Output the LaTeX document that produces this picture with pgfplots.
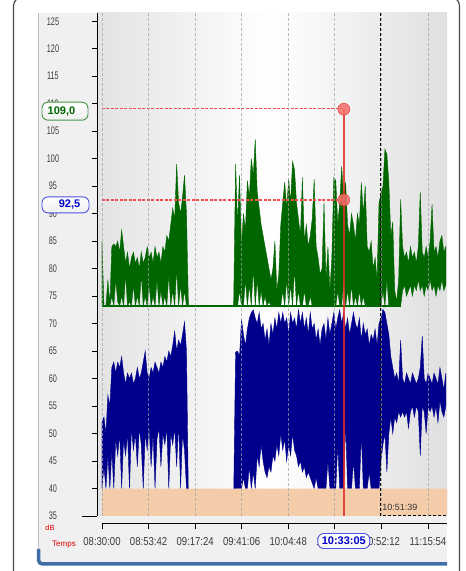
\documentclass[border=0pt]{standalone}
\usepackage{graphicx}
\usepackage{pgfplots}
\pgfplotsset{compat=1.18}
\usepackage{pgfplotstable}
\usepackage{fontspec}
\setmainfont{Liberation Sans}

\definecolor{lgreen}{RGB}{0,102,0}
\definecolor{lblue}{RGB}{0,0,140}
\definecolor{floorband}{RGB}{244,204,170}
\definecolor{cursor}{RGB}{225,45,40}
\definecolor{cursorlight}{RGB}{240,80,75}
\definecolor{dotfill}{RGB}{245,110,105}
\definecolor{strip}{RGB}{62,110,165}
\definecolor{tlab}{RGB}{60,60,60}
\definecolor{boxgreen}{RGB}{70,150,70}
\definecolor{boxblue}{RGB}{80,80,225}

\newcommand{\nx}[1]{\scalebox{0.83}[1]{#1}}

\pgfplotsset{trace/.style={at={(97pt,55pt)}, anchor=south west,
  scale only axis, width=350pt, height=503pt,
  xmin=-2.54, xmax=175.6, ymin=35, ymax=126.5}}

% minutes after 08:30:00, green / blue level envelopes (dB)
\pgfplotstableread{
t ghi glo bhi blo
0 85 73.2 52 40
1 73.2 73.2 53 44
2 73.2 73.2 50 40
3 78 73.2 57 46
4 73.5 73.2 55 40
5 84 75 62 47
6 84.5 73.2 63 40
7 84 78 61 49
8 85 74 63 46
9 83 73.2 62 50
10 87 75 64 40
11 84 73.2 61 49
12 81 79 59 46
13 83 73.2 61 50
14 80 74 60 40
15 82 73.2 61 51
16 83 77 59 47
17 81 73.2 60 50
18 82 75 62 44
19 80 73.2 60 51
20 83 79 61 48
21 81 73.2 63 40
22 82 75 65 50
23 84 73.2 61 47
24 82 77 60 51
25 83 73.2 62 44
26 81 75 61 50
27 84 73.2 63 40
28 82 78 62 49
29 83 73.2 61 51
30 81 76 63 44
31 84 73.2 62 50
32 83 75 64 48
33 86 73.2 63 51
34 85 79 65 40
35 88 73.2 64 50
36 91 76 66 48
37 89 73.2 68.6 51
38 99 80 65 44
39 92 73.2 67 52
40 90 77 66 40
41 93 73.2 68 50
42 97 76 70.3 47
43 90 73.2 65 40
44 73.2 73.2 38 38
67 73.2 73.2 38 38
68 99 73.2 64.8 40
69 88 73.2 65 40
70 97 76 64 40
71 84 73.2 70.8 40
72 90 73.2 68 42
73 87 78 66 40
74 96 73.2 69 40
75 93 77 71 44
76 100 73.2 72 40
77 97 80 72.5 43
78 103.5 73.2 71 40
79 94 78 70 46
80 91 73.2 72 44
81 88 76 69 48
82 86 73.2 70 45
83 84 75 67 43
84 82 73.2 69 42
85 80 74 66 44
86 78 73.2 70 43
87 80 73.2 68 46
88 85 73.2 71 45
89 76 73.2 69 48
90 79 73.2 72 46
91 88 73.2 70 50
92 92 76 72 47
93 95.7 73.2 70 49
94 91 78 71 45
95 96.3 73.2 68 48
96 92 77 72 46
97 99.5 73.2 70 50
98 98 80 71 47
99 92 73.2 69 46
100 89 76 72.5 44
101 86 73.2 70 45
102 96.6 73.2 72 43
103 85 76 69 44
104 88 73.2 71 42
105 84 73.2 68 43
106 86 75 72 42
107 89 73.2 69 41
108 96.3 73.2 70 40
109 84 73.2 67 42
110 82 73.2 69 40
111 79 73.2 66 40
112 80 73.2 69 40
113 92 73.2 70 40
114 78 73.2 67 40
115 84 73.2 71 45
116 76 73.2 68 40
117 82 73.2 70 40
118 96.6 73.2 72 40
119 96 73.2 69 40
120 88 76 71 48
121 92 73.2 72.5 40
122 98.6 73.2 70 40
123 93 78 72 40
124 95.7 73.2 69 52
125 88 76 71 40
126 86 73.2 68 40
127 90 77 70 40
128 88 73.2 72 45
129 85 75 70 40
130 90 73.2 69 40
131 88 76 71 40
132 95.7 73.2 67 50
133 90 75 70 40
134 95 73.2 68 40
135 84 73.2 69 40
136 83 73.2 66 43
137 85 73.2 68 40
138 80 73.2 67 40
139 82 73.2 69 40
140 78 73.2 66 40
141 92 73.2 70 40
142 93.5 73.2 71 45
143 95 76 72.6 48
144 101.7 73.2 72 50
145 100.8 78 70 43
146 95.7 73.2 68 50
147 86 73.2 64 53
148 88.5 73.2 62 50
149 76 73.2 60 53
150 74 73.2 61 52
151 78 73.2 59 54
152 92.6 73.2 67 53
153 84 76 60 54
154 82 77 59 53
155 83 75 61 54
156 81 76 60 51
157 84 77 59 54
158 82 75 61 55
159 83 77 60 53
160 81 76 59 55
161 84 78 60 54
162 93.9 76 62 46
163 83 77 67.7 55
164 82 75 60 54
165 84 77 59 50
166 82 76 61 55
167 85 78 60 54
168 91.7 76 59 55
169 83 77 61 53
170 84 75 60 55
171 82 77 59 52
172 85 76 62 56
173 86 78 60 54
174 83 76 58 53
175 84 77 61 55
}\levels

\begin{document}
\begin{tikzpicture}[x=1pt,y=1pt]
\fill[white] (0,0) rectangle (466,571);
% window panel
\fill[gray!12] (38,9) rectangle (447,558);
\draw[gray!50] (38.5,9) -- (38.5,558);
\draw[strip, line width=3.5pt, rounded corners=4pt] (38.5,22) -- (38.5,7) -- (447,7);
\draw[overlay, black!70, line width=1.2pt, rounded corners=9pt] (13.5,-5) -- (13.5,574) -- (459.5,574) -- (459.5,-5);
\draw[black, line width=0.8pt] (82,55) -- (97,55);
% plot area background
\shade[left color=gray!22, right color=white] (97,55) rectangle (272,558);
\shade[left color=white, right color=gray!25] (272,55) rectangle (447,558);

% green level: band between glo and ghi
\begin{axis}[trace, hide axis, stack plots=y]
\addplot[draw=none] table[x=t, y=glo] {\levels};
\addplot[fill=lgreen, draw=lgreen, line width=0.4pt]
  table[x=t, y expr=\thisrow{ghi}-\thisrow{glo}] {\levels} \closedcycle;
\end{axis}

% blue level: band between blo and bhi
\begin{axis}[trace, hide axis, stack plots=y]
\addplot[draw=none] table[x=t, y=blo] {\levels};
\addplot[fill=lblue, draw=lblue, line width=0.4pt]
  table[x=t, y expr=\thisrow{bhi}-\thisrow{blo}] {\levels} \closedcycle;
\end{axis}

\begin{axis}[
  trace,
  axis on top,
  axis lines*=left,
  x axis line style={draw=none},
  y axis line style={draw=black, line width=0.8pt},
  xtick={0,23.7,47.4,71.1,94.8,118.5,142.2,165.9},
  xticklabels={},
  xtick style={draw=none},
  xmajorgrids,
  major x grid style={draw=gray!75, densely dashed, line width=0.7pt, opacity=0.7},
  ytick={35,40,...,125},
  tick align=outside,
  major tick length=5pt,
  ytick style={draw=black, line width=0.7pt},
  /pgf/number format/assume math mode=true,
  yticklabel={\scalebox{0.66}[1]{\pgfmathprintnumber{\tick}}},
  yticklabel style={anchor=center, xshift=-39pt, font=\fontsize{11}{12}\selectfont, text=tlab},
]
% green baseline
\addplot[draw=lgreen, line width=1.4pt] coordinates {(0,73.2) (152,73.2)};
% floor band
\addplot[draw=none, fill=floorband] coordinates {(0,35) (0,40) (175.6,40) (175.6,35) (0,35)};
% cursor
\addplot[draw=cursorlight, dash pattern=on 3pt off 1.5pt, line width=1.7pt] coordinates {(0,109.1) (123.08,109.1)};
\addplot[draw=cursorlight, dash pattern=on 3pt off 1.5pt, line width=1.7pt] coordinates {(0,92.5) (123.08,92.5)};
\addplot[draw=cursor, line width=1.4pt, draw opacity=0.85] coordinates {(123.08,109) (123.08,35)};
\addplot[only marks, mark=*, mark size=6pt,
  mark options={fill=dotfill, draw=cursor, fill opacity=0.85}]
  coordinates {(123.08,109) (123.08,92.5)};
% marker 10:51:39
\addplot[draw=black, densely dashed, line width=0.8pt] coordinates {(141.65,126.5) (141.65,35.2) (175.6,35.2)};
\node[anchor=south west, font=\fontsize{9}{10}\selectfont, text=black!80, inner sep=0pt]
  at (axis cs:142.6,36) {10:51:39};
\coordinate (m109) at (axis cs:-2.54,109);
\coordinate (m925) at (axis cs:-2.54,92.5);
\coordinate (mcur) at (axis cs:123.08,35);
\end{axis}

\begin{axis}[
  at={(102pt,48pt)}, anchor=south west,
  scale only axis, width=345pt, height=10pt,
  xmin=0, xmax=175.6, ymin=0, ymax=1,
  axis x line*=bottom, hide y axis,
  x axis line style={draw=black, line width=0.8pt, -},
  xtick={0,23.7,47.4,71.1,94.8,118.5,142.2,165.9},
  xticklabels={\nx{08:30:00},\nx{08:53:42},\nx{09:17:24},\nx{09:41:06},\nx{10:04:48},\nx{10:28:30},\nx{10:52:12},\nx{11:15:54}},
  tick align=outside, major tick length=6pt,
  xtick style={draw=black, line width=0.8pt},
  xticklabel style={anchor=center, yshift=-13pt, font=\fontsize{11.5}{13}\selectfont, text=tlab},
]
\addplot[draw=none] coordinates {(0,0) (1,1)};
\end{axis}

% value boxes
\node[draw=boxgreen, line width=0.9pt, rounded corners=6pt, top color=white, bottom color=gray!12,
  minimum width=46pt, minimum height=18pt, inner sep=0pt] at ([xshift=-32pt,yshift=-2pt]m109) {};
\node[font=\bfseries\fontsize{11}{12}\selectfont, text=green!40!black] at ([xshift=-35.5pt,yshift=-2pt]m109) {109,0};
\node[draw=boxblue, line width=0.9pt, rounded corners=6pt, top color=white, bottom color=gray!12,
  minimum width=47pt, minimum height=16pt, inner sep=0pt] at ([xshift=-31.5pt,yshift=-5pt]m925) {};
\node[font=\bfseries\fontsize{11}{12}\selectfont, text=blue!80!black] at ([xshift=-27.5pt,yshift=-5pt]m925) {92,5};
\node[draw=boxblue, line width=0.9pt, rounded corners=6pt, top color=white, bottom color=gray!8,
  minimum width=52pt, minimum height=15pt, inner sep=0pt,
  font=\bfseries\fontsize{11}{12}\selectfont, text=blue!80!black] at ([yshift=-25pt]mcur) {10:33:05};
% axis names
\node[font=\fontsize{7.5}{8}\selectfont, text=red!85!black] at (50,43.5) {dB};
\node[font=\fontsize{8}{9}\selectfont, text=red!85!black] at (64,26) {Temps};
\end{tikzpicture}
\end{document}
